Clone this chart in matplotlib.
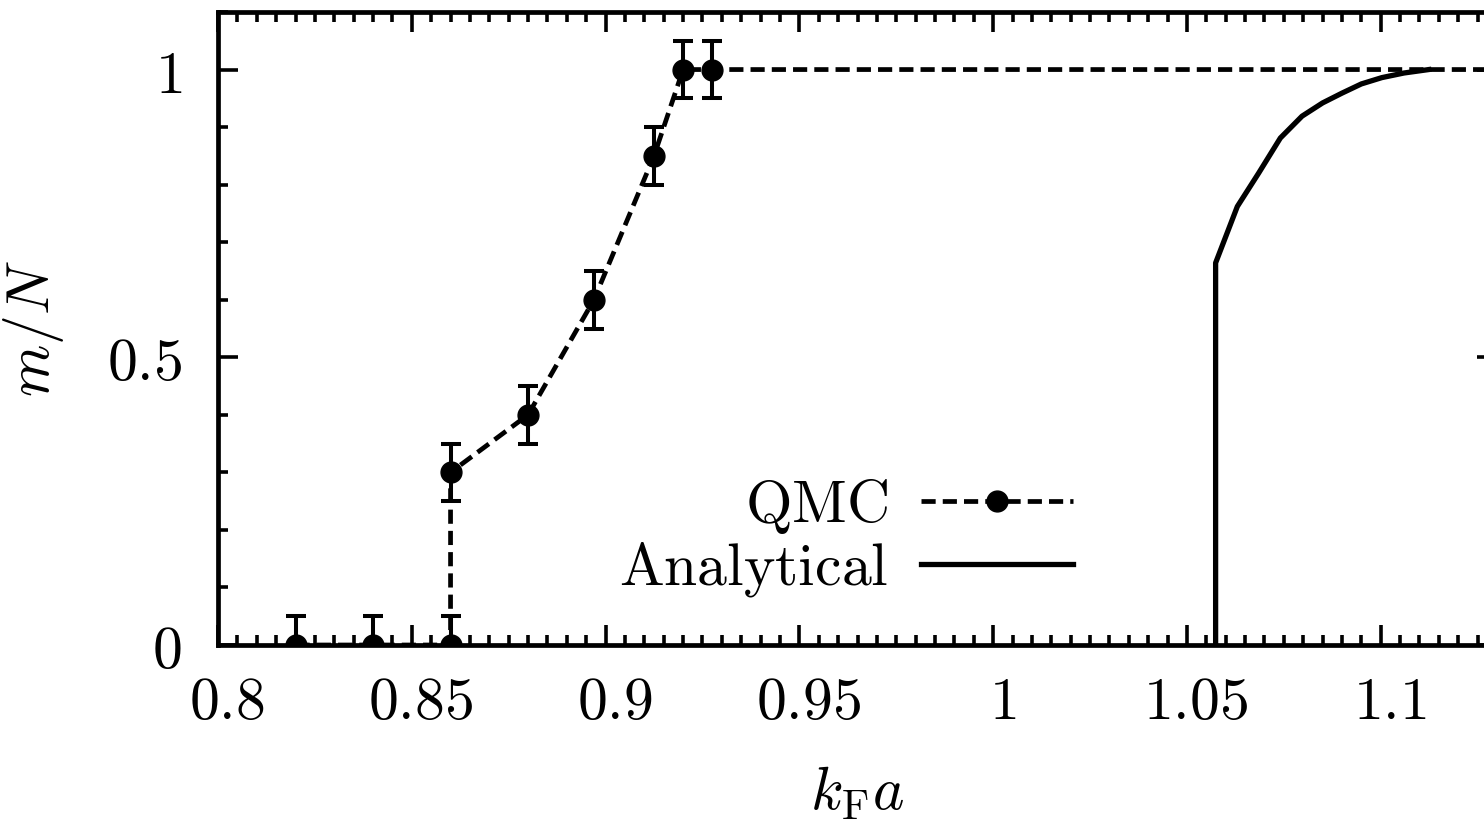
"""m/N versus k_F a: QMC points with error bars against the analytical curve."""

import matplotlib

matplotlib.use("Agg")
import matplotlib.pyplot as plt
from matplotlib.ticker import MultipleLocator, FixedLocator
from matplotlib.transforms import ScaledTranslation

plt.rcParams["mathtext.fontset"] = "cm"
plt.rcParams["font.family"] = ["DejaVu Serif"]

# QMC data (the last point lies past the cropped right edge; the y=1 line runs on)
qmc_x = [0.82, 0.84, 0.86, 0.86, 0.88, 0.897, 0.9125, 0.92, 0.9275, 1.15]
qmc_y = [0.0, 0.0, 0.0, 0.30, 0.40, 0.60, 0.85, 1.0, 1.0, 1.0]
qmc_err = [0.05, 0.05, 0.05, 0.05, 0.05, 0.05, 0.05, 0.05, 0.05, 0.05]

# analytical curve
ana_x = [1.0574, 1.0574, 1.0630, 1.0685, 1.0741, 1.0797, 1.0850, 1.0900,
         1.0950, 1.1003, 1.1060, 1.1124]
ana_y = [0.0, 0.664, 0.762, 0.820, 0.881, 0.919, 0.942, 0.959,
         0.975, 0.986, 0.994, 1.0]

x_major = [0.8, 0.85, 0.9, 0.95, 1.0, 1.05, 1.1]
x_labels = ["0.8", "0.85", "0.9", "0.95", "1", "1.05", "1.1"]
y_major = [0.0, 0.5, 1.0]
y_labels = ["0", "0.5", "1"]

FS = 43

fig = plt.figure(figsize=(14.84, 8.24), dpi=100)
# axes run past the right edge of the figure (the source image is cropped)
ax = fig.add_axes([218 / 1484, 179 / 824, 1279 / 1484, 633 / 824])

ax.errorbar(qmc_x, qmc_y, yerr=qmc_err, fmt="none", ecolor="black",
            elinewidth=2.9, capsize=7.5, capthick=2.9, zorder=3)
ax.plot(qmc_x, qmc_y, color="black", linestyle="--", dashes=(3.0, 1.5),
        linewidth=3.4, marker="o", markersize=15, label=r"$\mathrm{QMC}$",
        zorder=4)
ax.plot(ana_x, ana_y, color="black", linewidth=3.8,
        label=r"$\mathrm{Analytical}$", zorder=4)

ax.set_xlim(0.8, 1.13)
ax.set_ylim(0.0, 1.1)

ax.xaxis.set_major_locator(FixedLocator(x_major))
ax.xaxis.set_minor_locator(MultipleLocator(0.005))
ax.yaxis.set_major_locator(FixedLocator(y_major))
ax.yaxis.set_minor_locator(MultipleLocator(0.1))
ax.set_xticklabels([f"${t}$" for t in x_labels], fontsize=FS)
ax.set_yticklabels([f"${t}$" for t in y_labels], fontsize=FS)

ax.tick_params(which="both", direction="in", top=True, right=True,
               width=2.6, color="black")
ax.tick_params(which="major", length=14.5)
ax.tick_params(which="minor", length=7.2)
ax.tick_params(axis="x", which="major", pad=20)
ax.tick_params(axis="y", which="major", pad=26)

# the x tick labels sit a little to the right of their ticks
shift = ScaledTranslation(9 / 100, 0, fig.dpi_scale_trans)
for lab in ax.get_xticklabels():
    lab.set_transform(lab.get_transform() + shift)

for s in ax.spines.values():
    s.set_linewidth(3.4)

ax.set_xlabel(r"$k_{\mathrm{F}}a$", fontsize=FS)
ax.set_ylabel(r"$m/N$", fontsize=FS)
ax.xaxis.set_label_coords(0.5, -0.188)
ax.yaxis.set_label_coords(-0.119, 0.5)

ax.legend(loc="upper right", bbox_to_anchor=(1073 / 1484, 1 - 476 / 824),
          bbox_transform=fig.transFigure, frameon=False, markerfirst=False,
          fontsize=FS, handlelength=2.55, handletextpad=0.55, labelspacing=0.05,
          borderpad=0, borderaxespad=0, numpoints=1)

fig.savefig("out.png", dpi=100)
plt.close(fig)
